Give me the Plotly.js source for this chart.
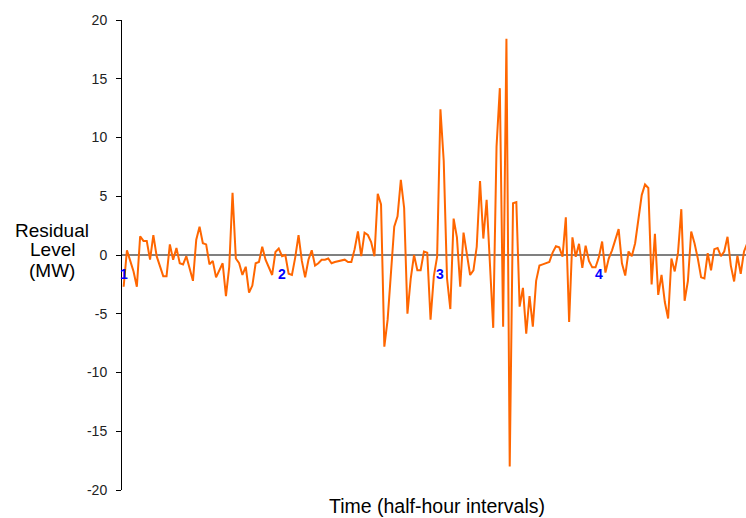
<!DOCTYPE html>
<html>
<head>
<meta charset="utf-8">
<script src="https://cdn.plot.ly/plotly-3.0.1.min.js"></script>
<style>html,body{margin:0;padding:0;background:#fff;}#chart{width:746px;height:518px;}</style>
</head>
<body>
<div id="chart"></div>
<script>
// Residual level (MW) per half-hour interval
const residuals = [
 -2.7, 0.4, -0.5, -1.4, -2.7, 1.6, 1.2, 1.2, -0.4, 1.7,
 -0.1, -1.0, -1.8, -1.8, 0.9, -0.4, 0.6, -0.7, -0.8, -0.1,
 -1.1, -2.2, 1.3, 2.4, 1.0, 0.9, -0.8, -0.5, -1.9, -1.3,
 -0.7, -3.5, -1.0, 5.3, -0.3, -0.7, -1.7, -1.0, -3.2, -2.6,
 -0.7, -0.6, 0.7, -0.4, -1.0, -1.7, 0.25, 0.55, -0.1, 0.0,
 -1.6, -1.7, -0.2, 1.7, -0.5, -1.9, -0.4, 0.4, -0.9, -0.7,
 -0.4, -0.4, -0.3, -0.7, -0.6, -0.55, -0.5, -0.4, -0.6, -0.6,
 0.5, 2.0, -0.1, 1.9, 1.7, 1.1, -0.1, 5.2, 4.3, -7.8,
 -5.5, -1.6, 2.4, 3.3, 6.4, 4.0, -5.0, -2.0, 0.0, -1.3,
 -1.3, 0.3, 0.2, -5.5, -1.8, -0.15, 12.4, 8.0, -2.0, -4.6,
 3.1, 1.5, -2.7, 1.9, 0.0, -1.7, -1.3, 0.7, 6.3, 1.4,
 4.7, -1.0, -6.2, 9.2, 14.2, -6.1, 18.4, -18.0, 4.4, 4.5,
 -4.4, -2.8, -6.7, -3.5, -6.1, -2.2, -0.9, -0.8, -0.7, -0.6,
 0.2, 0.75, 0.65, -0.15, 3.2, -5.7, 1.5, -0.15, 0.95, -1.1,
 0.8, -0.5, -1.05, -1.05, -0.2, 1.15, -1.5, -0.3, 0.4, 1.3,
 2.2, -0.7, -1.75, 0.3, -0.1, 1.0, 3.0, 5.1, 6.0, 5.7,
 -2.5, 1.8, -3.4, -1.7, -4.0, -5.4, -0.3, -1.4, 0.2, 3.9,
 -3.9, -2.2, 2.0, 1.0, -0.3, -1.9, -2.0, 0.15, -1.3, 0.5,
 0.6, -0.1, 0.3, 1.55, -0.9, -2.25, -0.05, -1.6, 0.3, 1.0
];
const intervals = residuals.map((_, i) => i);

// Day markers
const dayLabels = ["1", "2", "3", "4"];
const dayIndex = [0, 48, 96, 144];
const dayLabelLevel = -1.6;

// Y axis ticks
const yTickValues = [-20, -15, -10, -5, 0, 5, 10, 15, 20];
const yTickLabels = ["-20", "-15", "-10", "-5", "0", "5", "10", "15", "20"];

const yTitleLines = ["Residual", "Level", "(MW)"];
const xTitle = "Time (half-hour intervals)";

const trace = {
  x: intervals,
  y: residuals,
  type: "scatter",
  mode: "lines",
  line: {color: "#FF6600", width: 2},
  hoverinfo: "skip",
  showlegend: false
};

const annotations = dayLabels.map((t, k) => ({
  x: dayIndex[k], y: dayLabelLevel, xref: "x", yref: "y",
  text: t, showarrow: false,
  font: {family: "Liberation Sans, Arial, sans-serif", size: 14, color: "#0000FF", weight: "bold"},
  xanchor: "center", yanchor: "middle"
}));

const yTitleY = [0.553, 0.511, 0.468];
yTitleLines.forEach((t, k) => {
  annotations.push({
    x: 0, y: yTitleY[k], xref: "paper", yref: "paper", xshift: 52 - 122,
    text: t, showarrow: false,
    font: {family: "Liberation Sans, Arial, sans-serif", size: 19, color: "#000"},
    xanchor: "center", yanchor: "middle"
  });
});

annotations.push({
  x: 0.505, y: 0, xref: "paper", yref: "paper", yshift: -16,
  text: xTitle, showarrow: false,
  font: {family: "Liberation Sans, Arial, sans-serif", size: 19.5, color: "#000"},
  xanchor: "center", yanchor: "middle"
});

const layout = {
  width: 746, height: 518,
  margin: {l: 122, r: 0, t: 20, b: 28, pad: 0},
  paper_bgcolor: "#fff", plot_bgcolor: "#fff",
  showlegend: false,
  xaxis: {
    range: [-0.5, 188.6],
    showgrid: false, zeroline: false, showline: false,
    showticklabels: false, ticks: ""
  },
  yaxis: {
    range: [-20, 20],
    tickvals: yTickValues, ticktext: yTickLabels,
    showgrid: false,
    zeroline: true, zerolinecolor: "#808080", zerolinewidth: 1.5,
    showline: true, linecolor: "#000", linewidth: 1,
    ticks: "outside", ticklen: 5, tickcolor: "#000", tickwidth: 1,
    ticklabelstandoff: 6,
    tickfont: {family: "Liberation Sans, Arial, sans-serif", size: 14, color: "#222"}
  },
  annotations: annotations
};

Plotly.newPlot("chart", [trace], layout, {staticPlot: true, displayModeBar: false});
</script>
</body>
</html>
